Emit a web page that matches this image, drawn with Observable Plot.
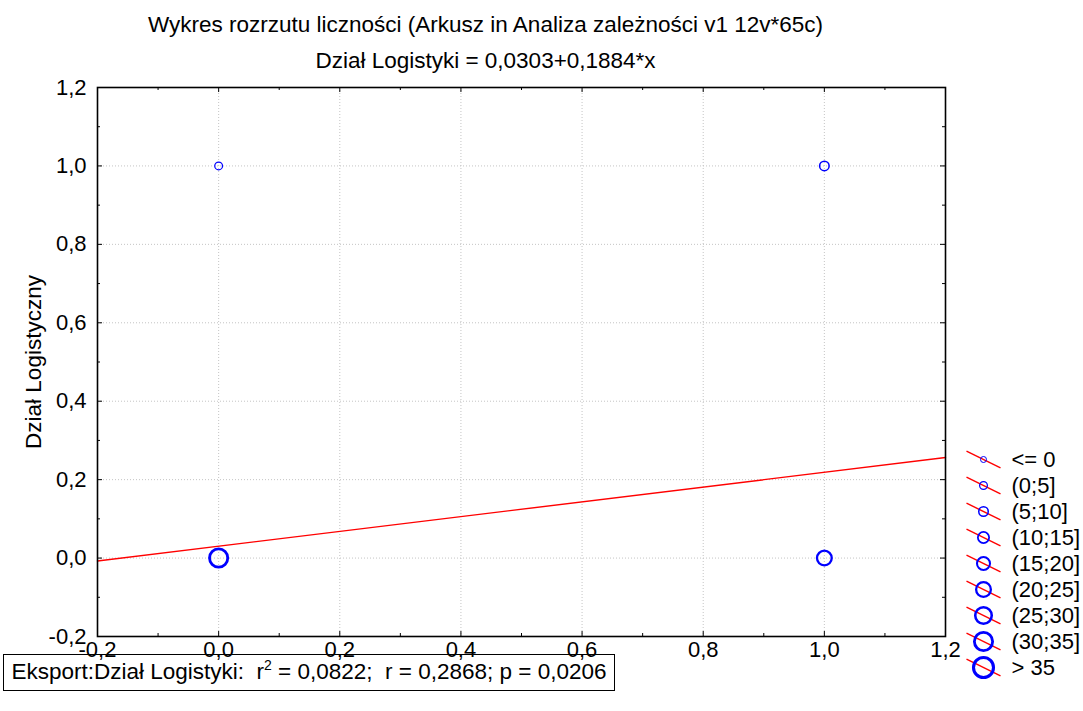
<!DOCTYPE html>
<html><head><meta charset="utf-8">
<script src="https://cdn.jsdelivr.net/npm/d3@7"></script>
<script src="https://cdn.jsdelivr.net/npm/@observablehq/plot@0.6"></script>
<style>
body{margin:0;background:#fff;font-family:"Liberation Sans",Arial,sans-serif;}
#wrap{position:relative;width:1083px;height:711px;}
#legend{position:absolute;left:940px;top:420px;}
#stats{position:absolute;left:3px;top:654px;width:610px;height:35px;border:1.5px solid #000;font-size:22.5px;line-height:1;display:flex;align-items:center;justify-content:center;color:#000;}
#stats span{white-space:pre;line-height:1;}
#stats sup{font-size:14px;line-height:0;vertical-align:9px;}
</style></head><body><div id="wrap"></div>
<script>
// ---- data ----
const xValues = [0, 0, 1, 1];
const yValues = [0, 1, 0, 1];
const counts = [32, 1, 25, 7];
const intercept = 0.0303;
const slope = 0.1884;
const classLabels = ["<= 0", "(0;5]", "(5;10]", "(10;15]", "(15;20]", "(20;25]", "(25;30]", "(30;35]", "> 35"];
const classUpper = [0, 5, 10, 15, 20, 25, 30, 35];
const xTicks = [-0.2, 0, 0.2, 0.4, 0.6, 0.8, 1.0, 1.2];
const yTicks = [-0.2, 0, 0.2, 0.4, 0.6, 0.8, 1.0, 1.2];
const minorTicks = [-0.1, 0.1, 0.3, 0.5, 0.7, 0.9, 1.1];
const titleText = "Wykres rozrzutu liczności (Arkusz in Analiza zależności v1 12v*65c)";
const subtitleText = "Dział Logistyki = 0,0303+0,1884*x";
const yLabel = "Dział Logistyczny";
const statsLabel = "Eksport:Dział Logistyki:";
const statR2 = 0.0822, statR = 0.2868, statP = 0.0206;

// ---- helpers ----
const fmt = v => v.toFixed(1).replace(".", ",");
const fmt4 = v => v.toFixed(4).replace(".", ",");
const cls = c => { const i = classUpper.findIndex(u => c <= u); return i < 0 ? classUpper.length : i; };
const pts = xValues.map((x, i) => ({x, y: yValues[i], n: counts[i], k: cls(counts[i])}));
const xDomain = [xTicks[0], xTicks[xTicks.length - 1]];
const yDomain = [yTicks[0], yTicks[yTicks.length - 1]];
const fitLine = xDomain.map(x => ({x, y: intercept + slope * x}));

const W = 1083, H = 711, mL = 97, mR = 138, mT = 87, mB = 75;
const pW = W - mL - mR, pH = H - mT - mB;
const font = "Liberation Sans, Arial, sans-serif";
const rScale = {type: "linear", domain: [0, 8], range: [3, 10]};
const sw = k => 1 + 0.26 * k;

const main = Plot.plot({
  width: W, height: H, marginLeft: mL, marginRight: mR, marginTop: mT, marginBottom: mB,
  style: {fontFamily: font, fontSize: "22px", background: "white", color: "black", overflow: "visible"},
  x: {domain: xDomain, axis: null},
  y: {domain: yDomain, axis: null},
  r: rScale,
  marks: [
    Plot.gridX(xTicks, {stroke: "#c4c4c4", strokeOpacity: 1, strokeDasharray: "1,2"}),
    Plot.gridY(yTicks, {stroke: "#c4c4c4", strokeOpacity: 1, strokeDasharray: "1,2"}),
    Plot.line(fitLine, {x: "x", y: "y", stroke: "#ff0000", strokeWidth: 1.4}),
    Plot.dot(pts, {x: "x", y: "y", r: "k", stroke: "#0000ff", fill: "none", strokeWidth: d => sw(d.k)}),
    // inward ticks
    Plot.ruleX(xTicks, {x: d => d, insetTop: pH - 5, stroke: "black"}),
    Plot.ruleX(xTicks, {x: d => d, insetBottom: pH - 5, stroke: "black"}),
    Plot.ruleX(minorTicks, {x: d => d, insetTop: pH - 3, stroke: "black"}),
    Plot.ruleX(minorTicks, {x: d => d, insetBottom: pH - 3, stroke: "black"}),
    Plot.ruleY(yTicks, {y: d => d, insetRight: pW - 5, stroke: "black"}),
    Plot.ruleY(yTicks, {y: d => d, insetLeft: pW - 5, stroke: "black"}),
    Plot.ruleY(minorTicks, {y: d => d, insetRight: pW - 3, stroke: "black"}),
    Plot.ruleY(minorTicks, {y: d => d, insetLeft: pW - 3, stroke: "black"}),
    Plot.frame({stroke: "black", strokeWidth: 1.6}),
    // tick labels
    Plot.text(xTicks, {x: d => d, y: yDomain[0], text: fmt, lineAnchor: "middle", dy: 13, fontSize: 22, fill: "black"}),
    Plot.text(yTicks, {y: d => d, text: fmt, frameAnchor: "left", textAnchor: "end", dx: -11, fontSize: 22, fill: "black"}),
    // titles
    Plot.text([titleText], {text: d => d, frameAnchor: "top", dx: -36, dy: -63, lineAnchor: "middle", fontSize: 22.5, fill: "black"}),
    Plot.text([subtitleText], {text: d => d, frameAnchor: "top", dx: -36, dy: -27, lineAnchor: "middle", fontSize: 22.5, fill: "black"}),
    Plot.text([yLabel], {text: d => d, frameAnchor: "left", textAnchor: "middle", dx: -64, rotate: -90, lineAnchor: "middle", fontSize: 22.5, fill: "black"})
  ]
});

const legend = Plot.plot({
  width: 143, height: 270, margin: 0,
  style: {fontFamily: font, fontSize: "22px", background: "transparent", color: "black", overflow: "visible"},
  x: {domain: [-1, 1], range: [26, 60], axis: null},
  y: {domain: [0, 8], range: [39, 247], axis: null},
  r: rScale,
  marks: [
    Plot.link(classLabels, {x1: -1, x2: 1, y1: (d, i) => i - 0.32, y2: (d, i) => i + 0.32, stroke: "#ff0000", strokeWidth: 1.4}),
    Plot.dot(classLabels, {x: 0, y: (d, i) => i, r: (d, i) => i, stroke: "#0000ff", fill: "none", strokeWidth: (d, i) => sw(i)}),
    Plot.text(classLabels, {x: 1, y: (d, i) => i, text: d => d, dx: 11, textAnchor: "start", fontSize: 22, fill: "black"})
  ]
});
legend.id = "legend";

const wrap = document.getElementById("wrap");
wrap.appendChild(main);
wrap.appendChild(legend);
const stats = document.createElement("div");
stats.id = "stats";
stats.innerHTML = `<span>${statsLabel}  r<sup>2</sup> = ${fmt4(statR2)};  r = ${fmt4(statR)}; p = ${fmt4(statP)}</span>`;
wrap.appendChild(stats);
</script></body></html>
